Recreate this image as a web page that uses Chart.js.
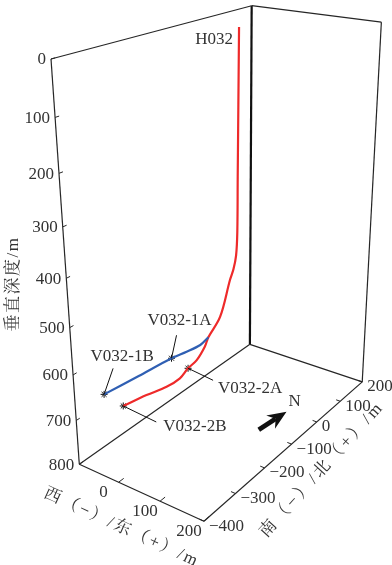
<!DOCTYPE html>
<html><head><meta charset="utf-8">
<script src="https://cdn.jsdelivr.net/npm/chart.js@4/dist/chart.umd.min.js"></script>
<style>html,body{margin:0;padding:0;background:#fff;overflow:hidden}canvas{display:block}</style>
</head><body>
<canvas id="c" width="392" height="565"></canvas>
<script>
// ---------- data (metres) ----------
const eastRange  = [-100, 200];
const northRange = [-400, 200];
const depthRange = [0, 800];
const depthTicks = [0, 100, 200, 300, 400, 500, 600, 700, 800];
const eastTicks  = [0, 100, 200];
const northTicks = [-400, -300, -200, -100, 0, 100, 200];

// H032 main bore continuing into lateral 2 (red)
const h032East  = [4, 3, 2, 1, 0, 1, 4, 7, 20, 19, 20, 21, 18, 18, 8, -15, -39];
const h032North = [0, 0, 0, 0, 0, -6, -20, -37, -91, -131, -145, -174, -199, -226, -256, -290, -332];
const h032Depth = [0, 100, 200, 300, 420, 470, 495, 512, 570, 600, 615, 632, 640, 650, 658, 668, 680];

// lateral 1 (blue)
const lat1East  = [19, 14, 3, -11, -31, -52];
const lat1North = [-131, -152, -183, -214, -292, -370];
const lat1Depth = [600, 610, 615, 620, 630, 640];

const markerNames = ['V032-1A', 'V032-1B', 'V032-2A', 'V032-2B'];
const markerEast  = [-11, -52, 18, -39];
const markerNorth = [-214, -370, -199, -332];
const markerDepth = [620, 640, 640, 680];

const wellName = 'H032';
const northArrowEast  = [118, 128];   // tail, tip (on floor)
const northArrowNorth = [-95, -3];

// ---------- projection (perspective camera) ----------
const CAM = {x0:51, xu:128, xv:266.2, xw:42.5, y0:59, yu:18.6, yv:-51.8, yw:488.4, du:-0.093, dv:0.2604, dw:0.179};
function proj(e, n, z) {
  const u = (e - eastRange[0]) / (eastRange[1] - eastRange[0]);
  const v = (n - northRange[0]) / (northRange[1] - northRange[0]);
  const w = (z - depthRange[0]) / (depthRange[1] - depthRange[0]);
  const D = 1 + CAM.du*u + CAM.dv*v + CAM.dw*w;
  return { x: (CAM.x0 + CAM.xu*u + CAM.xv*v + CAM.xw*w) / D,
           y: (CAM.y0 + CAM.yu*u + CAM.yv*v + CAM.yw*w) / D };
}
const E0 = eastRange[0], E1 = eastRange[1], N0 = northRange[0], N1 = northRange[1], Z0 = depthRange[0], Z1 = depthRange[1];

const datasets = [];
function seg(a, b, color, width) {
  datasets.push({ data: [proj(...a), proj(...b)], showLine: true, borderColor: color, borderWidth: width,
    pointRadius: 0, tension: 0, clip: false });
}
const EDGE = '#262626';
// box edges
seg([E0,N0,Z0],[E0,N1,Z0], EDGE, 1.2);
seg([E0,N1,Z0],[E1,N1,Z0], EDGE, 1.2);
seg([E0,N0,Z0],[E0,N0,Z1], EDGE, 1.2);
seg([E1,N1,Z0],[E1,N1,Z1], EDGE, 1.2);
seg([E0,N0,Z1],[E0,N1,Z1], EDGE, 1.2);
seg([E0,N1,Z1],[E1,N1,Z1], EDGE, 1.2);
seg([E0,N0,Z1],[E1,N0,Z1], EDGE, 1.2);
seg([E1,N0,Z1],[E1,N1,Z1], EDGE, 1.2);
seg([E0,N1,Z0],[E0,N1,Z1], '#111', 2.2);
// ticks
depthTicks.forEach(z => seg([E0,N0,z],[E0,N0+10,z], EDGE, 1));
eastTicks.forEach(e => seg([e,N0,Z1],[e,N0+15,Z1], EDGE, 1));
northTicks.forEach(n => seg([E1,n,Z1],[E1-10,n,Z1], EDGE, 1));

// wells
datasets.push({ data: lat1East.map((e,i)=>proj(e, lat1North[i], lat1Depth[i])), showLine:true,
  borderColor:'#2f5fb3', borderWidth:2.2, pointRadius:0, tension:0.3, clip:false });
datasets.push({ data: h032East.map((e,i)=>proj(e, h032North[i], h032Depth[i])), showLine:true,
  borderColor:'#ee2a2a', borderWidth:2.2, pointRadius:0, tension:0.35, clip:false });
// markers
datasets.push({ data: markerEast.map((e,i)=>proj(e, markerNorth[i], markerDepth[i])), showLine:false,
  pointStyle:'star', pointRadius:3.5, borderColor:'#111', borderWidth:1, backgroundColor:'#111', clip:false });

// ---------- annotation layout (pixel offsets) ----------
const labelLayout = [
  { end:[5,-23],  txt:[8,-38],  align:'center' },
  { end:[9,-26],  txt:[18,-38], align:'center' },
  { end:[25,12],  txt:[30,20],  align:'left' },
  { end:[33,16],  txt:[40,21],  align:'left' }
];
const FONT = '"Liberation Serif","Times New Roman",serif';
const CJK = '"Liberation Serif","Noto Serif CJK SC","Noto Sans CJK SC",serif';
const TXT = '#333';

const annot = {
  id:'annot',
  afterDatasetsDraw(chart) {
    const ctx = chart.ctx, sx = chart.scales.x, sy = chart.scales.y;
    const P = (e,n,z) => { const p = proj(e,n,z); return [sx.getPixelForValue(p.x), sy.getPixelForValue(p.y)]; };
    ctx.save();
    ctx.fillStyle = TXT; ctx.strokeStyle = '#111'; ctx.lineWidth = 1;
    ctx.font = '17px ' + FONT; ctx.textBaseline = 'middle';
    // depth labels
    ctx.textAlign = 'right';
    depthTicks.forEach(z => { const [x,y] = P(E0,N0,z); ctx.fillText(String(z), x-5, y+1); });
    // east labels
    ctx.textAlign = 'center';
    eastTicks.forEach(e => { const [x,y] = P(e,N0,Z1); ctx.fillText(String(e), x-15, y+10); });
    // north labels
    ctx.textAlign = 'left';
    northTicks.forEach(n => { const [x,y] = P(E1,n,Z1); ctx.fillText(String(n).replace('-', '\u2212'), x+5, y+5); });
    // well name
    { const [x,y] = P(h032East[0], h032North[0], h032Depth[0]); ctx.textAlign='right'; ctx.fillText(wellName, x-6, y+12); }
    // marker labels + leader lines
    markerNames.forEach((nm,i) => {
      const [x,y] = P(markerEast[i], markerNorth[i], markerDepth[i]);
      const L = labelLayout[i];
      ctx.beginPath(); ctx.moveTo(x,y); ctx.lineTo(x+L.end[0], y+L.end[1]); ctx.stroke();
      ctx.textAlign = L.align; ctx.fillText(nm, x+L.txt[0], y+L.txt[1]);
    });
    // north arrow
    {
      const [tx,ty] = P(northArrowEast[0], northArrowNorth[0], Z1);
      const [px,py] = P(northArrowEast[1], northArrowNorth[1], Z1);
      const len = Math.hypot(px-tx, py-ty), dx=(px-tx)/len, dy=(py-ty)/len, nx=-dy, ny=dx;
      const hl = 19, hw = 8, notch = 6;
      ctx.fillStyle = '#111';
      ctx.beginPath();
      ctx.moveTo(px,py);
      ctx.lineTo(px-dx*hl+nx*hw, py-dy*hl+ny*hw);
      ctx.lineTo(px-dx*(hl-notch), py-dy*(hl-notch));
      ctx.lineTo(px-dx*hl-nx*hw, py-dy*hl-ny*hw);
      ctx.closePath(); ctx.fill();
      const bw = 2.4;
      ctx.beginPath();
      ctx.moveTo(tx+nx*bw, ty+ny*bw);
      ctx.lineTo(px-dx*(hl-notch)+nx*bw, py-dy*(hl-notch)+ny*bw);
      ctx.lineTo(px-dx*(hl-notch)-nx*bw, py-dy*(hl-notch)-ny*bw);
      ctx.lineTo(tx-nx*bw, ty-ny*bw);
      ctx.closePath(); ctx.fill();
      ctx.fillStyle = TXT; ctx.textAlign='center';
      ctx.fillText('N', px+8, py-10);
    }
    // axis titles
    ctx.font = '17px ' + CJK;
    ctx.textAlign = 'center';
    ctx.letterSpacing = '1.5px';
    ctx.save(); ctx.translate(14, 284); ctx.rotate(-Math.PI/2); ctx.fillText('垂直深度/m', 0, 0); ctx.restore();
    ctx.letterSpacing = '2.3px';
    {
      const [ax,ay] = P(E0,N0,Z1), [bx,by] = P(E1,N0,Z1);
      const ang = Math.atan2(by-ay, bx-ax);
      ctx.save(); ctx.translate((ax+bx)/2-20, (ay+by)/2+35); ctx.rotate(ang);
      ctx.fillText('西（−）/东（+）/m', 0, 0); ctx.restore();
    }
    ctx.letterSpacing = '3px';
    {
      const [bx,by] = P(E1,N0,Z1), [cx,cy] = P(E1,N1,Z1);
      ctx.save(); ctx.translate((bx+cx)/2+39, (by+cy)/2+18); ctx.rotate(-48*Math.PI/180);
      ctx.fillText('南（−）/北（+）/m', 0, 0); ctx.restore();
    }
    ctx.restore();
  }
};

new Chart(document.getElementById('c'), {
  type: 'scatter',
  data: { datasets },
  options: {
    responsive: false, animation: false, events: [],
    layout: { padding: 0, autoPadding: false },
    plugins: { legend: { display: false }, tooltip: { enabled: false } },
    scales: {
      x: { type: 'linear', min: 0, max: 392, display: false },
      y: { type: 'linear', min: 0, max: 565, reverse: true, display: false }
    }
  },
  plugins: [annot]
});
</script>
</body></html>
